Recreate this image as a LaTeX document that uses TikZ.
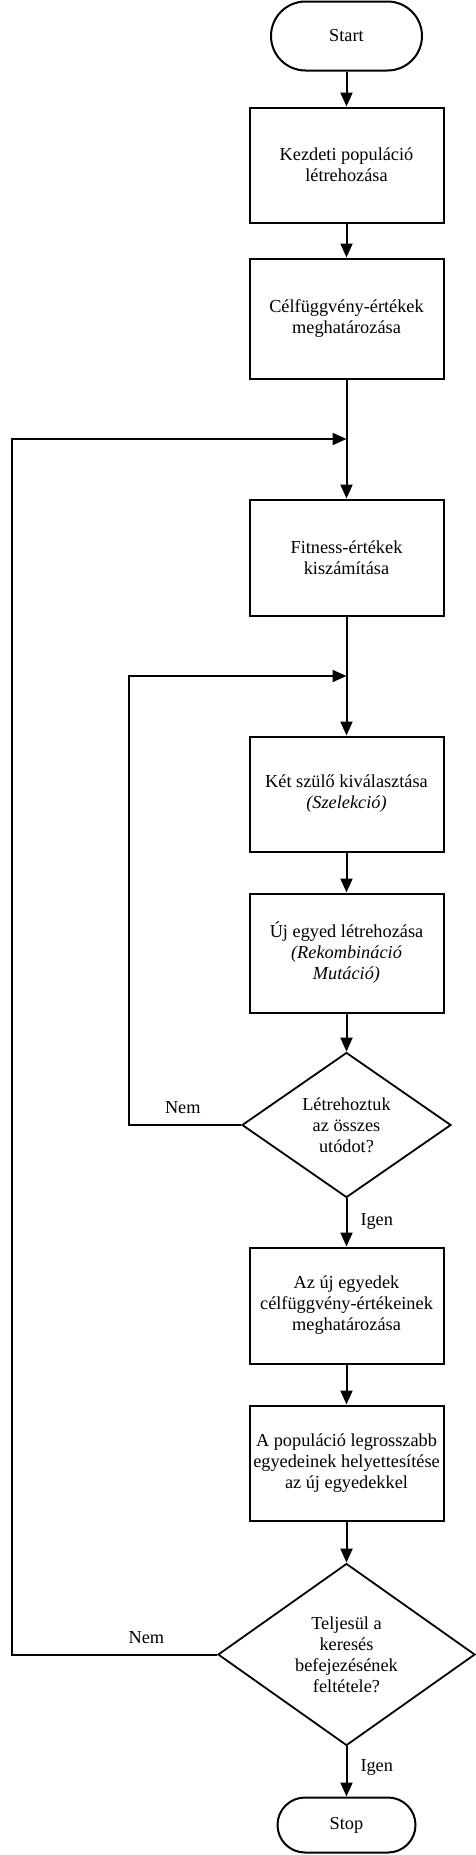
\documentclass[tikz,border=0pt]{standalone}
\usepackage{fontspec}
\setmainfont{Liberation Serif}
\usetikzlibrary{arrows.meta,shapes.geometric,shapes.misc}
\begin{document}
\begin{tikzpicture}[x=1pt,y=-1pt,
  every node/.style={font=\fontsize{18.3}{21}\selectfont},
  box/.style={draw,line width=2pt,minimum width=194pt,inner sep=0pt,align=center},
  term/.style={draw,line width=2pt,rounded rectangle,inner sep=0pt},
  decision/.style={draw,line width=1.8pt,diamond,inner sep=0pt,align=center},
  arr/.style={line width=2pt,-{Triangle[width=12pt,length=14pt]}},
  lbl/.style={inner sep=0pt}]
\useasboundingbox (0,0) rectangle (476,1855);
\node[term,minimum width=151pt,minimum height=69pt] (start) at (346.5,36) {Start};
\node[box,minimum height=115pt] (b1) at (346.5,165) {Kezdeti populáció\\létrehozása};
\node[box,minimum height=120pt] (b2) at (346.5,318.5) {Célfüggvény-értékek\\meghatározása};
\node[box,minimum height=116pt] (b3) at (346.5,557.5) {Fitness-értékek\\kiszámítása};
\node[box,minimum height=115pt] (b4) at (346.5,794) {Két szülő kiválasztása\\\itshape(Szelekció)};
\node[box,minimum height=119pt] (b5) at (346.5,953) {Új egyed létrehozása\\\itshape(Rekombináció\\\itshape Mutáció)};
\node[decision,minimum width=209pt,minimum height=145pt,aspect=1.44] (d1) at (346.5,1125) {Létrehoztuk\\az összes\\utódot?};
\node[box,minimum height=116pt] (b6) at (346.5,1305.5) {Az új egyedek\\célfüggvény-értékeinek\\meghatározása};
\node[box,minimum height=115pt] (b7) at (346.5,1463) {A populáció legrosszabb\\egyedeinek helyettesítése\\az új egyedekkel};
\node[decision,minimum width=257pt,minimum height=182pt,aspect=1.41] (d2) at (346.5,1654.5) {Teljesül a\\keresés\\befejezésének\\feltétele?};
\node[term,minimum width=138pt,minimum height=55pt] (stop) at (346.5,1825) {Stop};

\coordinate (j1) at (346.5,439);
\coordinate (j2) at (346.5,676);
\coordinate (outL) at (12,439);
\coordinate (inL) at (129,676);

\draw[arr] (start.south) -- (b1.north);
\draw[arr] (b1.south) -- (b2.north);
\draw[arr] (b2.south) -- (b3.north);
\draw[arr] (b3.south) -- (b4.north);
\draw[arr] (b4.south) -- (b5.north);
\draw[arr] (b5.south) -- (d1.north);
\draw[arr] (d1.south) -- node[lbl,pos=0.47,right=13pt]{Igen} (b6.north);
\draw[arr] (b6.south) -- (b7.north);
\draw[arr] (b7.south) -- (d2.north);
\draw[arr] (d2.south) -- node[lbl,pos=0.43,right=13pt]{Igen} (stop.north);
\draw[arr] (d1.west) -- node[lbl,pos=0.52,above=10pt]{Nem} (d1.west -| inL) -- (inL) -- (j2);
\draw[arr] (d2.west) -- node[lbl,pos=0.345,above=10pt]{Nem} (d2.west -| outL) -- (outL) -- (j1);
\end{tikzpicture}
\end{document}
